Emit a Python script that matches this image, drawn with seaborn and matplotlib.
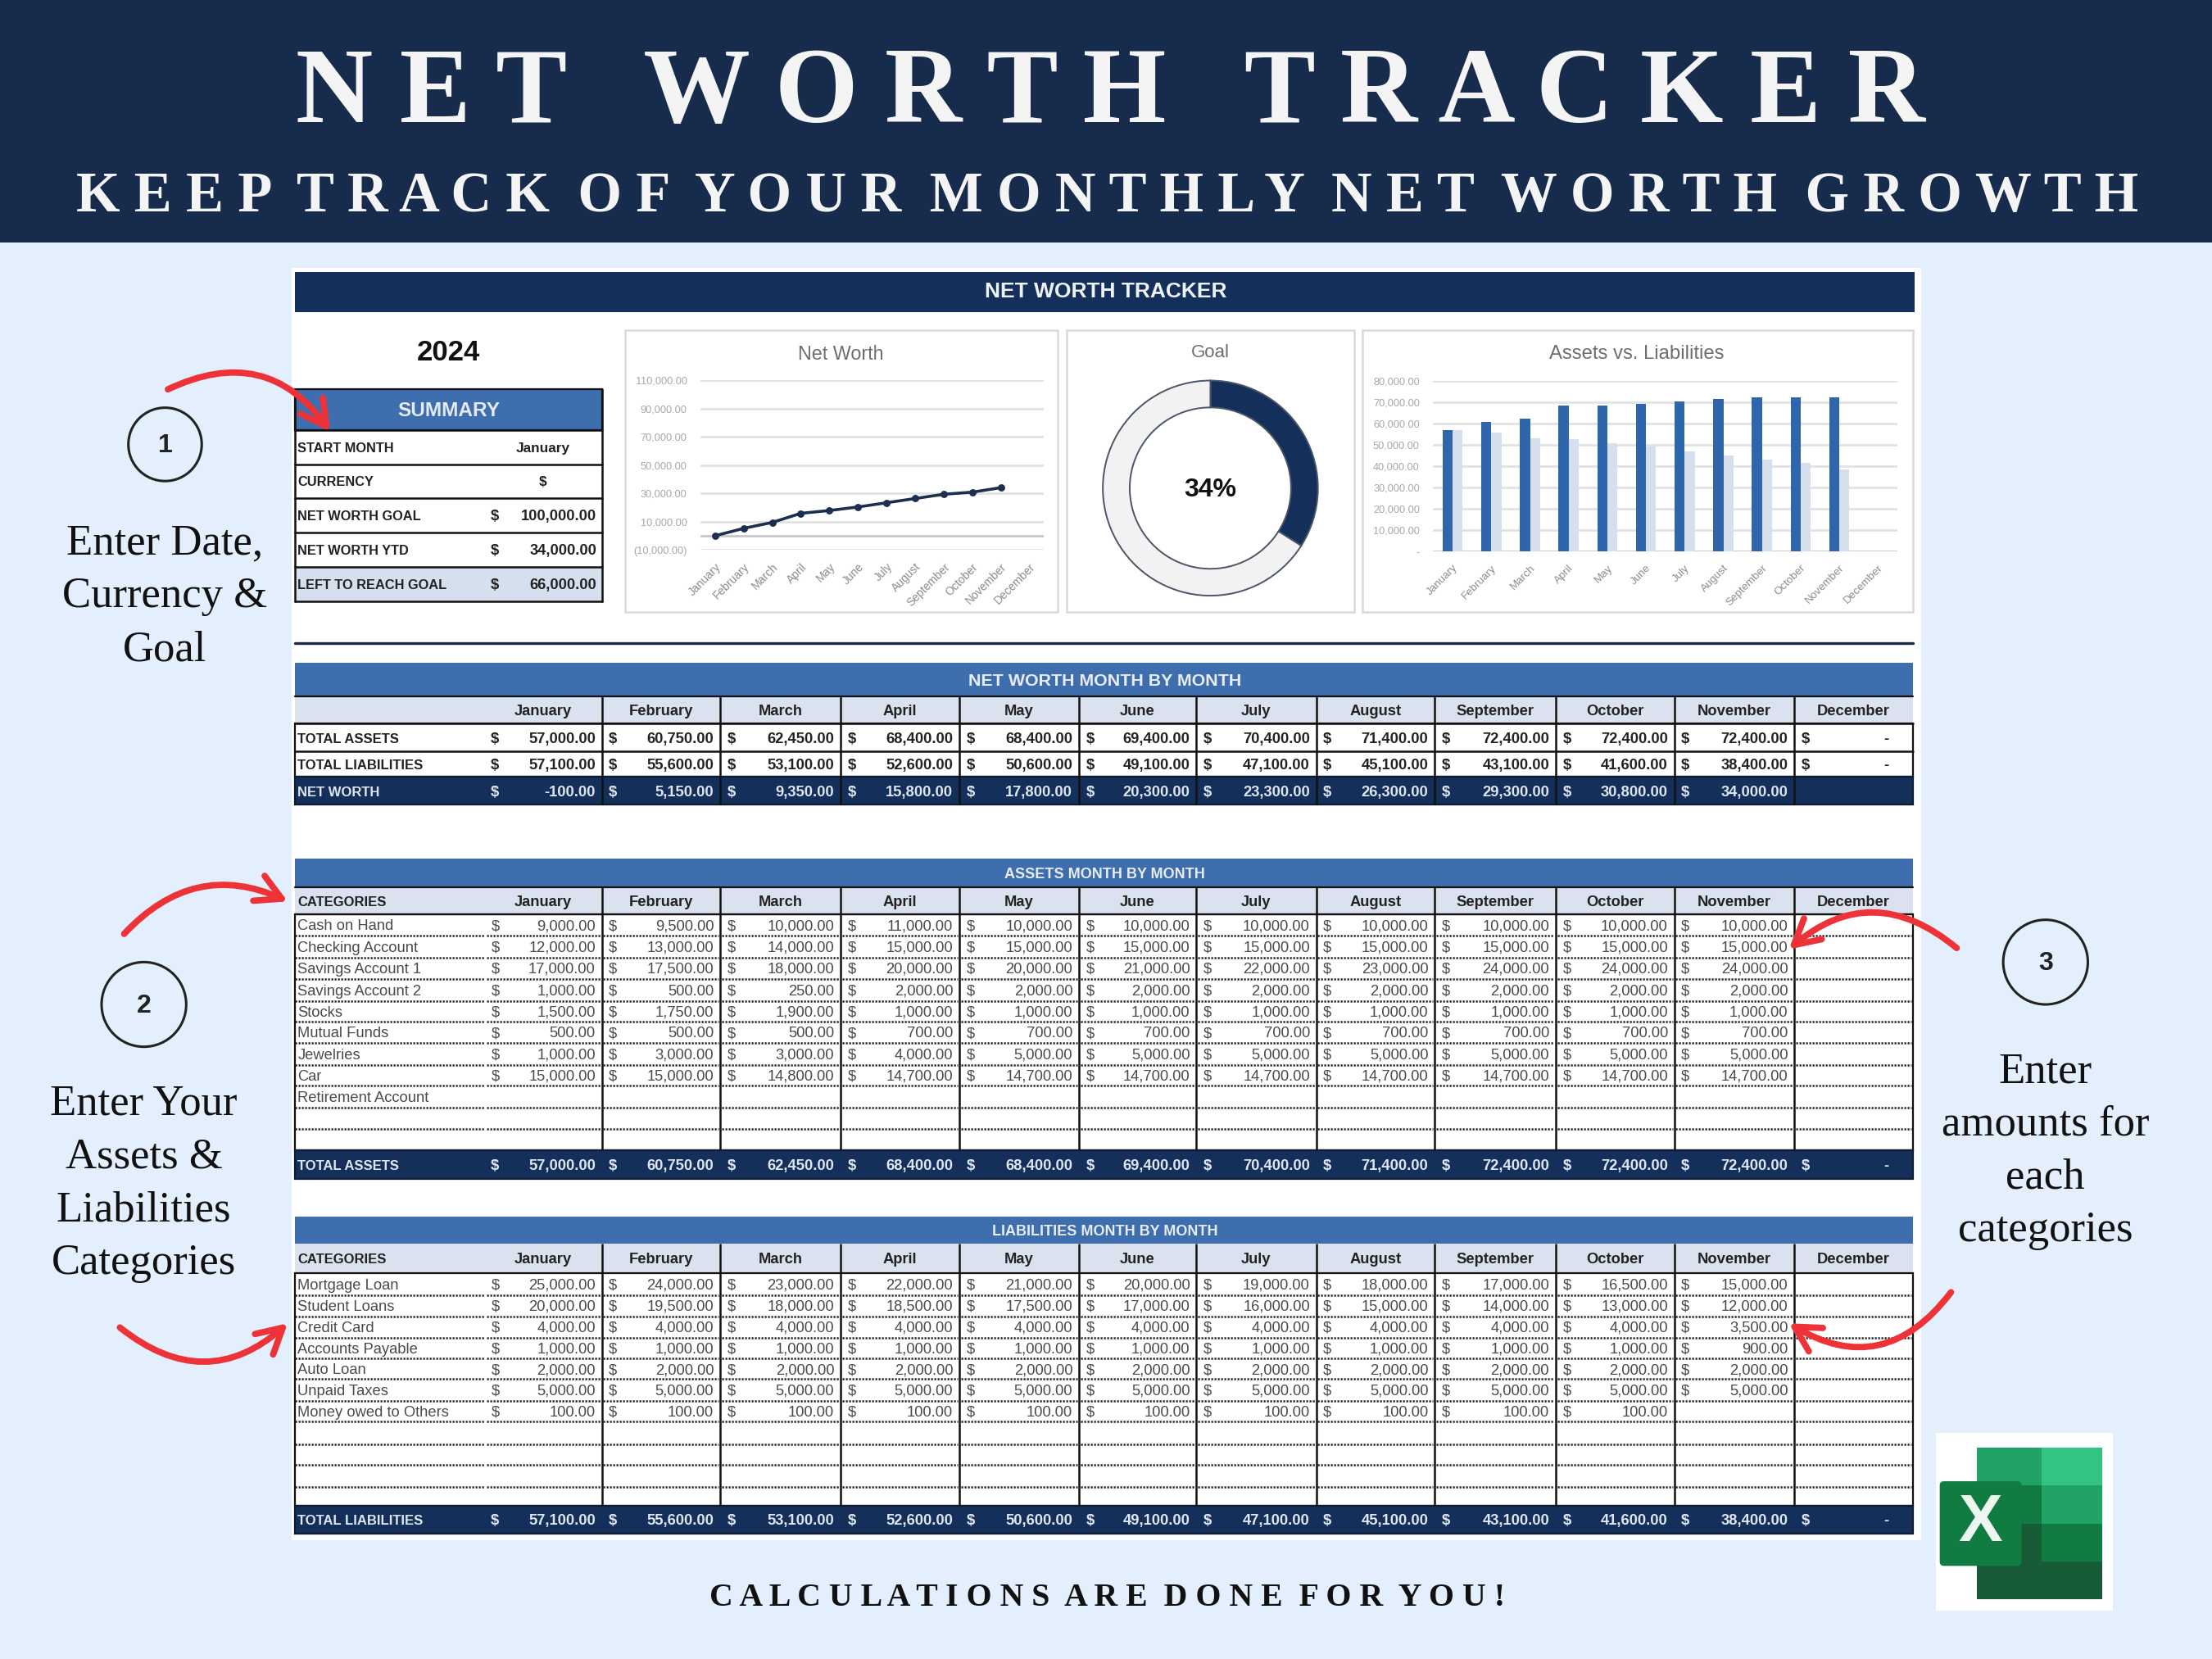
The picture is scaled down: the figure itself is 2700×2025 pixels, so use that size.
import numpy as np
import pandas as pd
import seaborn as sns
from matplotlib import pyplot as plt
from matplotlib.patches import Circle, FancyArrowPatch, FancyBboxPatch, Rectangle

months = ["January", "February", "March", "April", "May", "June", "July",
          "August", "September", "October", "November", "December"]

total_assets = [57000, 60750, 62450, 68400, 68400, 69400, 70400, 71400, 72400, 72400, 72400, 0]
total_liabilities = [57100, 55600, 53100, 52600, 50600, 49100, 47100, 45100, 43100, 41600, 38400, 0]
net_worth = [-100, 5150, 9350, 15800, 17800, 20300, 23300, 26300, 29300, 30800, 34000, None]

asset_names = ["Cash on Hand", "Checking Account", "Savings Account 1", "Savings Account 2", "Stocks",
               "Mutual Funds", "Jewelries", "Car", "Retirement Account", "", ""]
cash_on_hand = [9000, 9500, 10000, 11000, 10000, 10000, 10000, 10000, 10000, 10000, 10000, None]
checking = [12000, 13000, 14000, 15000, 15000, 15000, 15000, 15000, 15000, 15000, 15000, None]
savings_1 = [17000, 17500, 18000, 20000, 20000, 21000, 22000, 23000, 24000, 24000, 24000, None]
savings_2 = [1000, 500, 250, 2000, 2000, 2000, 2000, 2000, 2000, 2000, 2000, None]
stocks = [1500, 1750, 1900, 1000, 1000, 1000, 1000, 1000, 1000, 1000, 1000, None]
mutual_funds = [500, 500, 500, 700, 700, 700, 700, 700, 700, 700, 700, None]
jewelries = [1000, 3000, 3000, 4000, 5000, 5000, 5000, 5000, 5000, 5000, 5000, None]
car = [15000, 15000, 14800, 14700, 14700, 14700, 14700, 14700, 14700, 14700, 14700, None]
empty_row = [None] * 12

liability_names = ["Mortgage Loan", "Student Loans", "Credit Card", "Accounts Payable", "Auto Loan",
                   "Unpaid Taxes", "Money owed to Others", "", "", "", ""]
mortgage = [25000, 24000, 23000, 22000, 21000, 20000, 19000, 18000, 17000, 16500, 15000, None]
student_loans = [20000, 19500, 18000, 18500, 17500, 17000, 16000, 15000, 14000, 13000, 12000, None]
credit_card = [4000, 4000, 4000, 4000, 4000, 4000, 4000, 4000, 4000, 4000, 3500, None]
accounts_payable = [1000, 1000, 1000, 1000, 1000, 1000, 1000, 1000, 1000, 1000, 900, None]
auto_loan = [2000, 2000, 2000, 2000, 2000, 2000, 2000, 2000, 2000, 2000, 2000, None]
unpaid_taxes = [5000, 5000, 5000, 5000, 5000, 5000, 5000, 5000, 5000, 5000, 5000, None]
owed_to_others = [100, 100, 100, 100, 100, 100, 100, 100, 100, 100, None, None]

line_ticks = [-10000, 10000, 30000, 50000, 70000, 90000, 110000]
line_tick_labels = ["(10,000.00)", "10,000.00", "30,000.00", "50,000.00", "70,000.00", "90,000.00", "110,000.00"]
bar_ticks = [0, 10000, 20000, 30000, 40000, 50000, 60000, 70000, 80000]
bar_tick_labels = ["-", "10,000.00", "20,000.00", "30,000.00", "40,000.00", "50,000.00", "60,000.00", "70,000.00", "80,000.00"]
goal_share = [34, 66]

# colours
NAVY = "#172c4d"
DARK = "#14305a"
BLUE = "#3e6eae"
PALE = "#dbe2ef"
BACK = "#e3effc"
RED = "#ee3338"

# all layout below is in a 1568 x 1176 grid
W, H = 1568, 1176
COL_X = [209, 426.6, 510.4, 595.8, 680, 764.8, 848, 933, 1017, 1102.7, 1186.8, 1272, 1356]

sns.set_theme(style="white")
plt.rcParams["font.family"] = ["Liberation Sans"]
SERIF = "Liberation Serif"
NARROW = ["Liberation Sans Narrow", "Liberation Sans"]

fig = plt.figure(figsize=(13.5, 10.125), dpi=200, facecolor=BACK)
bg = fig.add_axes([0, 0, 1, 1])
bg.set_xlim(0, W)
bg.set_ylim(H, 0)
bg.axis("off")


def inset(x0, y0, x1, y1):
    return fig.add_axes([x0 / W, 1 - y1 / H, (x1 - x0) / W, (y1 - y0) / H], facecolor="none")


def box(x0, y0, x1, y1, color, edge="none", lw=0, z=1):
    bg.add_patch(Rectangle((x0, y0), x1 - x0, y1 - y0, facecolor=color, edgecolor=edge, linewidth=lw, zorder=z))


def label(x, y, s, size=6.6, color="#333333", weight="normal", ha="center", family=None):
    # va center sits a little high against the sheet's text
    bg.text(x, y + 1, s, fontsize=size, color=color, fontweight=weight, ha=ha, va="center",
            family=family or plt.rcParams["font.family"], zorder=5)


def money_row(y, values, color, weight="normal"):
    for i, v in enumerate(values):
        if v is None:
            continue
        left = 343 if i == 0 else COL_X[i]
        label(left + 8, y, "$", color=color, weight=weight)
        if v == 0:
            label(COL_X[i + 1] - 17, y, "-", color=color, weight="bold", ha="right")
        else:
            label(COL_X[i + 1] - 4.5, y, f"{v:,.2f}", color=color, weight=weight, ha="right")


def month_header(y):
    label(385, y, months[0], color="#222222", weight="bold")
    for i in range(1, 12):
        label((COL_X[i] + COL_X[i + 1]) / 2, y, months[i], color="#222222", weight="bold")


def verticals(y0, y1, z=3):
    for x in COL_X[1:-1]:
        bg.plot([x, x], [y0, y1], color="#111111", lw=0.9, zorder=z, solid_capstyle="butt")


def dotted(y):
    segs = [(209, 343), (345, 425.5)] + [(COL_X[i] + 1, COL_X[i + 1] - 1) for i in range(1, 12)]
    for a, b in segs:
        bg.plot([a, b], [y, y], color="#222222", lw=0.9, ls=(0, (0.9, 0.7)), zorder=3)


def detail_table(title, title_y, header_y, row_lines, total_y, names, rows, total_name, totals, header_border):
    box(209, title_y[0], 1356, title_y[1], BLUE, z=2)
    label(783, sum(title_y) / 2, title, size=6.5, color="#e8edf5", weight="bold")
    box(209, header_y[0], 1356, header_y[1], PALE, z=2)
    box(209, header_y[1], 1356, total_y[0], "white", edge="#111111", lw=0.8, z=2)
    if header_border:
        bg.plot([209, 1356], [header_y[0]] * 2, color="#111111", lw=0.8, zorder=3)
        bg.plot([209, 1356], [header_y[1]] * 2, color="#111111", lw=0.8, zorder=3)
    label(211, sum(header_y) / 2, "CATEGORIES", color="#222222", weight="bold", ha="left", size=6.0)
    month_header(sum(header_y) / 2)
    verticals(header_y[0], total_y[0])
    edges = [header_y[1]] + row_lines + [total_y[0]]
    for y in row_lines:
        dotted(y)
    for k, name in enumerate(names):
        yc = (edges[k] + edges[k + 1]) / 2
        if name:
            label(211, yc, name, ha="left", color="#4a4a4a", family=NARROW, size=6.6)
        money_row(yc, rows[k], "#4a4a4a")
    box(209, total_y[0], 1356, total_y[1], DARK, edge="#0c1c33", lw=0.8, z=2)
    yc = sum(total_y) / 2
    label(211, yc, total_name, ha="left", color="#dfe6f2", weight="bold", size=6.0)
    money_row(yc, totals, "#dfe6f2", weight="bold")


# header band and titles
box(0, 0, W, 172, NAVY)
label(787, 67, "N E T   W O R T H   T R A C K E R", size=47, color="#f4f4f4", weight="bold", family=SERIF)
label(785, 139, "K E E P  T R A C K  O F  Y O U R  M O N T H L Y  N E T  W O R T H  G R O W T H", size=24.8,
      color="#f4f4f4", weight="bold", family=SERIF)

# sheet
box(207, 190, 1362, 1092, "white", z=0.5)
box(209, 193, 1357, 221, DARK, z=2)
label(784, 206, "NET WORTH TRACKER", size=9.5, color="#eef1f6", weight="bold")
label(318, 249, "2024", size=12.5, color="#111111", weight="bold")

# summary block
box(209, 276, 427, 305, BLUE, edge="#111111", lw=0.8, z=2)
label(318, 290.5, "SUMMARY", size=8.8, color="#e4e9f2", weight="bold")
box(209, 402, 427, 426, "#d6dfee", z=1.5)
sum_lines = [305, 329, 353, 377.5, 402, 426]
for y in sum_lines:
    bg.plot([209, 427], [y, y], color="#111111", lw=0.9, zorder=3)
bg.plot([209, 209], [276, 426], color="#111111", lw=0.9, zorder=3)
bg.plot([427, 427], [276, 426], color="#111111", lw=0.9, zorder=3)
summary_names = ["START MONTH", "CURRENCY", "NET WORTH GOAL", "NET WORTH YTD", "LEFT TO REACH GOAL"]
summary_values = ["January", "$", "100,000.00", "34,000.00", "66,000.00"]
for k, (n, v) in enumerate(zip(summary_names, summary_values)):
    yc = (sum_lines[k] + sum_lines[k + 1]) / 2
    label(211, yc, n, ha="left", color="#222222", weight="bold", size=5.9)
    if k < 2:
        label(385, yc, v, color="#222222", weight="bold", size=6.2)
    else:
        label(351, yc, "$", color="#222222", weight="bold")
        label(423, yc, v, ha="right", color="#222222", weight="bold", size=6.6)

# chart panels
for x0, x1 in [(443, 750), (756, 960), (966, 1356)]:
    box(x0, 234, x1, 434, "white", edge="#d9d9d9", lw=0.9, z=1)
label(596, 250, "Net Worth", size=8.4, color="#6e6e6e")
label(858, 249, "Goal", size=8, color="#6e6e6e")
label(1160, 250, "Assets vs. Liabilities", size=8.6, color="#6e6e6e")

bg.plot([209, 1356], [456, 456], color="#1a2a44", lw=1.2, zorder=2)

# net worth line
ax = inset(496.7, 269.6, 740, 389.7)
df = pd.DataFrame({"month": months, "net": [np.nan if v is None else v for v in net_worth]})
for t in line_ticks + [0]:
    ax.axhline(t, color="#c8c8c8" if t == 0 else "#e2e2e2", lw=1.0, zorder=0)
sns.lineplot(data=df, x="month", y="net", ax=ax, color="#1c2f4f", lw=1.3, marker="o", markersize=3.2,
             markeredgewidth=0, sort=False, zorder=3)
ax.set_xlim(-0.5, 11.5)
ax.set_ylim(-10000, 110000)
ax.set_yticks(line_ticks, line_tick_labels)
ax.set_xlabel("")
ax.set_ylabel("")
ax.tick_params(axis="y", labelsize=4.6, labelcolor="#a8a8a8", length=0, pad=6)
ax.tick_params(axis="x", labelsize=5.0, labelcolor="#8c8c8c", length=0, pad=5)
plt.setp(ax.get_xticklabels(), rotation=45, ha="right", rotation_mode="anchor")
sns.despine(ax=ax, left=True, bottom=True)

# goal donut
ax = inset(781, 269, 935, 423)
ax.pie(goal_share, colors=[DARK, "#f2f2f2"], startangle=90, counterclock=False, radius=1,
       wedgeprops={"width": 0.25, "edgecolor": "#4a5568", "linewidth": 0.7})
ax.set_xlim(-1.01, 1.01)
ax.set_ylim(-1.01, 1.01)
ax.set_aspect("equal")
label(858, 346, "34%", size=11.5, color="#111111", weight="bold")

# assets vs liabilities bars
ax = inset(1016, 270, 1345, 391)
df = pd.DataFrame({"month": months * 2,
                   "amount": total_assets + total_liabilities,
                   "kind": ["Assets"] * 12 + ["Liabilities"] * 12})
for t in bar_ticks:
    ax.axhline(t, color="#c8c8c8" if t == 0 else "#e2e2e2", lw=1.0, zorder=0)
sns.barplot(data=df, x="month", y="amount", hue="kind", palette=["#2f65ab", "#d5dfee"], width=0.52, gap=0,
            saturation=1, linewidth=0, legend=False, ax=ax, zorder=3)
ax.set_xlim(-0.5, 11.5)
ax.set_ylim(0, 80000)
ax.set_yticks(bar_ticks, bar_tick_labels)
ax.set_xlabel("")
ax.set_ylabel("")
ax.tick_params(axis="y", labelsize=4.6, labelcolor="#a8a8a8", length=0, pad=6)
ax.tick_params(axis="x", labelsize=4.8, labelcolor="#8c8c8c", length=0, pad=5)
plt.setp(ax.get_xticklabels(), rotation=45, ha="right", rotation_mode="anchor")
sns.despine(ax=ax, left=True, bottom=True)

# net worth month by month
box(209, 469.8, 1356, 493.6, BLUE, z=2)
label(783, 482, "NET WORTH MONTH BY MONTH", size=7.7, color="#e8edf5", weight="bold")
box(209, 493.6, 1356, 512.9, PALE, z=2)
box(209, 512.9, 1356, 550.7, "white", edge="#111111", lw=0.8, z=2)
box(209, 550.7, 1356, 570.5, DARK, edge="#0c1c33", lw=0.8, z=2)
bg.plot([209, 1356], [493.6, 493.6], color="#111111", lw=0.8, zorder=3)
bg.plot([209, 1356], [512.9, 512.9], color="#111111", lw=0.9, zorder=3)
bg.plot([209, 1356], [532.4, 532.4], color="#111111", lw=0.9, zorder=3)
verticals(493.6, 570.5)
month_header(503.5)
label(211, 523, "TOTAL ASSETS", ha="left", color="#222222", weight="bold", size=6.0)
label(211, 541.5, "TOTAL LIABILITIES", ha="left", color="#222222", weight="bold", size=6.0)
label(211, 561, "NET WORTH", ha="left", color="#dfe6f2", weight="bold", size=6.0)
money_row(523, total_assets, "#222222", "bold")
money_row(541.5, total_liabilities, "#222222", "bold")
money_row(561, net_worth, "#dfe6f2", "bold")

detail_table("ASSETS MONTH BY MONTH", (608.6, 628.8), (628.8, 648.3),
             [663.3, 678.8, 693.8, 709.7, 724, 739.5, 755, 769.7, 785.1, 800.2], (815.6, 835.9),
             asset_names,
             [cash_on_hand, checking, savings_1, savings_2, stocks, mutual_funds, jewelries, car,
              empty_row, empty_row, empty_row],
             "TOTAL ASSETS", total_assets, True)

detail_table("LIABILITIES MONTH BY MONTH", (862.4, 881.7), (881.7, 902.4),
             [918.1, 933, 948.1, 963, 977.6, 993, 1007.5, 1023.6, 1038.5, 1054], (1067.5, 1087),
             liability_names,
             [mortgage, student_loans, credit_card, accounts_payable, auto_loan, unpaid_taxes, owed_to_others,
              empty_row, empty_row, empty_row, empty_row],
             "TOTAL LIABILITIES", total_liabilities, False)

# side notes
for x, y, r, n in [(117, 315, 26, "1"), (102, 712, 30, "2"), (1450, 682, 30, "3")]:
    bg.add_patch(Circle((x, y), r, facecolor="none", edgecolor="#222222", lw=1.1, zorder=3))
    label(x, y, n, size=11.5, color="#222222", weight="bold")
for x, y, note in [(117, 423, "Enter Date,\nCurrency &\nGoal"),
                   (102, 839, "Enter Your\nAssets &\nLiabilities\nCategories"),
                   (1450, 816, "Enter\namounts for\neach\ncategories")]:
    bg.text(x, y, note, fontsize=19, color="#111111", family=SERIF, ha="center", va="center",
            linespacing=1.45, zorder=5)

for start, end, rad in [((119, 276), (234, 306), -0.42), ((88, 662), (204, 639), -0.36),
                        ((85, 941), (204, 938), 0.42), ((1387, 672), (1268, 673), 0.42),
                        ((1383, 916), (1268, 938), -0.45)]:
    bg.add_patch(FancyArrowPatch(start, end, connectionstyle=f"arc3,rad={rad}",
                                 arrowstyle="->,head_length=11,head_width=6", mutation_scale=1,
                                 color=RED, lw=2.8, shrinkA=0, shrinkB=0, zorder=6, capstyle="round"))

label(785, 1132, "C A L C U L A T I O N S  A R E  D O N E  F O R  Y O U !", size=14.3, color="#111111",
      weight="bold", family=SERIF)

# excel logo
box(1372, 1015.7, 1497.7, 1141.5, "white", z=2)
for x0, x1, y0, y1, c in [(1401.5, 1447, 1026, 1053, "#21a366"), (1447, 1490, 1026, 1053, "#33c481"),
                          (1401.5, 1447, 1053, 1080, "#107c41"), (1447, 1490, 1053, 1080, "#21a366"),
                          (1401.5, 1447, 1080, 1107, "#185c37"), (1447, 1490, 1080, 1107, "#107c41"),
                          (1401.5, 1490, 1107, 1133.4, "#185c37")]:
    box(x0, y0, x1, y1, c, z=3)
bg.add_patch(FancyBboxPatch((1375, 1050), 58, 60, boxstyle="round,pad=0,rounding_size=3",
                            facecolor="#107c41", edgecolor="none", zorder=4))
label(1404, 1079, "X", size=29, color="#eef6f0", weight="bold")

fig.savefig("out.png", dpi=200, facecolor=BACK)
